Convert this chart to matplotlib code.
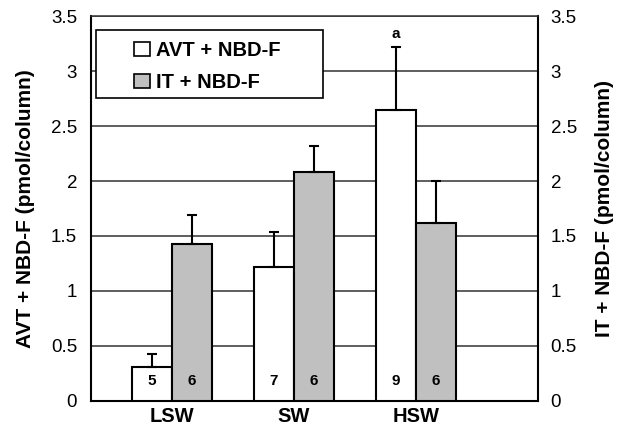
import matplotlib
matplotlib.use("Agg")
import matplotlib.pyplot as plt
from matplotlib.patches import Patch, Rectangle
import numpy as np

plt.rcParams['font.family'] = ['Liberation Sans', 'DejaVu Sans']

categories = ["LSW", "SW", "HSW"]
avt_values = [0.31, 1.22, 2.65]
avt_err = [0.12, 0.32, 0.57]
it_values = [1.43, 2.08, 1.62]
it_err = [0.26, 0.24, 0.38]
avt_n = ["5", "7", "9"]
it_n = ["6", "6", "6"]
yticks = [0, 0.5, 1, 1.5, 2, 2.5, 3, 3.5]
ytick_labels = ["0", "0.5", "1", "1.5", "2", "2.5", "3", "3.5"]
sig_label = "a"
sig_index = 2

fig = plt.figure(figsize=(6.28, 4.28), dpi=100)
ax = fig.add_axes([0.1449, 0.0631, 0.7118, 0.8995])

x = np.arange(1, len(categories) + 1)
w = 0.328
gray = "#c0c0c0"

ax.set_ylim(0, 3.5)
ax.set_xlim(0.336, 4.0)
ax.set_yticks(yticks)
ax.yaxis.grid(True, color="#333333", linewidth=1.1)
ax.set_axisbelow(True)

ax.bar(x - w / 2, avt_values, w, color="white", edgecolor="black", linewidth=1.5, zorder=3)
ax.bar(x + w / 2, it_values, w, color=gray, edgecolor="black", linewidth=1.5, zorder=3)
ax.errorbar(x - w / 2, avt_values, yerr=[np.zeros(3), avt_err], fmt="none",
            ecolor="black", elinewidth=1.5, capsize=3.5, capthick=1.5, zorder=4)
ax.errorbar(x + w / 2, it_values, yerr=[np.zeros(3), it_err], fmt="none",
            ecolor="black", elinewidth=1.5, capsize=3.5, capthick=1.5, zorder=4)

for i in range(len(categories)):
    ax.text(x[i] - w / 2, 0.18, avt_n[i], ha="center", va="center",
            fontsize=11, fontweight="bold", zorder=5)
    ax.text(x[i] + w / 2, 0.18, it_n[i], ha="center", va="center",
            fontsize=11, fontweight="bold", zorder=5)

ax.text(x[sig_index] - w / 2, avt_values[sig_index] + avt_err[sig_index] + 0.12,
        sig_label, ha="center", va="center", fontsize=11, fontweight="bold")

ax.set_xticks(x)
ax.set_xticklabels(categories, fontsize=14.5, fontweight="bold")
ax.set_yticklabels(ytick_labels, fontsize=13.5)
ax.tick_params(axis="x", length=0, pad=4)
ax.tick_params(axis="y", length=0, pad=10)
for s in ["left", "bottom", "right"]:
    ax.spines[s].set_linewidth(1.5)
    ax.spines[s].set_color("black")
ax.spines["top"].set_color("#333333")
ax.spines["top"].set_linewidth(1.1)
ax.set_ylabel("AVT + NBD-F (pmol/column)", fontsize=15, fontweight="bold")
ax.yaxis.label.set_va("center")
ax.yaxis.set_label_coords((26 - 91) / 447, 0.5)

ax2 = ax.twinx()
ax2.set_ylim(0, 3.5)
ax2.set_yticks(yticks)
ax2.set_yticklabels(ytick_labels, fontsize=13.5)
ax2.tick_params(axis="y", length=0, pad=9)
for s in ax2.spines.values():
    s.set_visible(False)
ax2.set_ylabel("IT + NBD-F (pmol/column)", fontsize=15, fontweight="bold", rotation=90)
ax2.yaxis.label.set_va("center")
ax2.yaxis.set_label_coords((604 - 91) / 447, 0.5)

# legend frame
frame = Rectangle((0.011, 0.787), 0.508, 0.177, transform=ax.transAxes,
                  facecolor="white", edgecolor="black", linewidth=1.2, zorder=6)
ax.add_patch(frame)

handles = [Patch(facecolor="white", edgecolor="black", linewidth=1.2, label="AVT + NBD-F"),
           Patch(facecolor=gray, edgecolor="black", linewidth=1.2, label="IT + NBD-F")]
leg = ax.legend(handles=handles, loc="upper left", bbox_to_anchor=((134 - 91) / 447, 0.935),
                prop={"size": 14.5, "weight": "bold"}, frameon=False,
                handlelength=0.8, handleheight=0.7, handletextpad=0.3,
                labelspacing=0.65, borderpad=0, borderaxespad=0)
leg.set_zorder(7)

fig.savefig("out.png", dpi=100)
